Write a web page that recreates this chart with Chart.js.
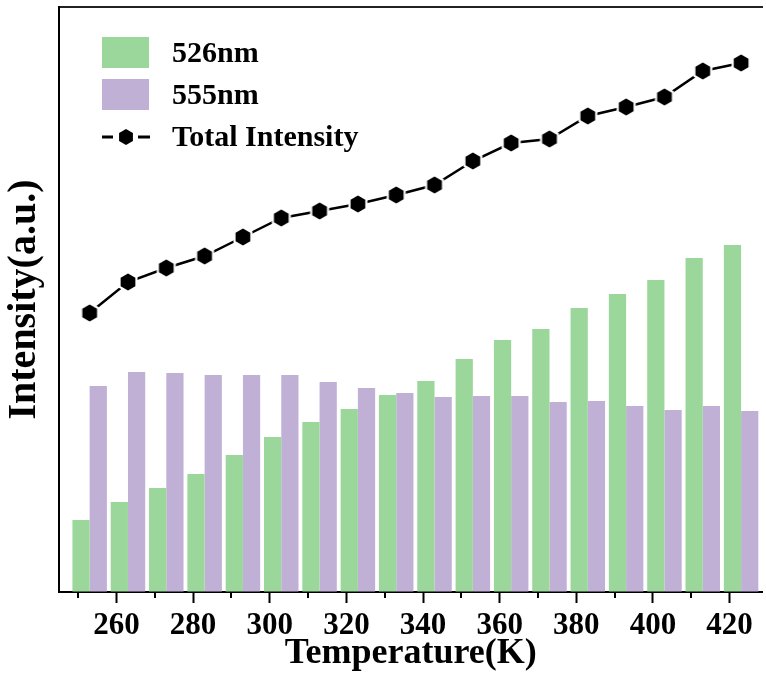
<!DOCTYPE html>
<html>
<head>
<meta charset="utf-8">
<script src="https://cdn.jsdelivr.net/npm/chart.js"></script>
<style>
body{margin:0;background:#fff}
#wrap{width:766px;height:675px}
</style>
</head>
<body>
<div id="wrap"><canvas id="chart" width="766" height="675"></canvas></div>
<script>
/* =========================
   DATA (arbitrary units)
========================= */
const temps = [253,263,273,283,293,303,313,323,333,343,353,363,373,383,393,403,413,423];
const green526 = [72,90,104,118,137,155,170,183,197,211,233,252,263,284,298,312,334,347];
const purple555 = [206,220,219,217,217,217,210,204,199,195,196,196,190,191,186,182,186,181];
const totalIntensity = [279,310,324,336,355,374,381,388,397,407,431,449,453,476,485,495,521,529];
const majorTicks = [260,280,300,320,340,360,380,400,420];
const minorTicks = [250,270,290,310,330,350,370,390,410];
const seriesNames = ["526nm","555nm","Total Intensity"];

/* =========================
   STYLE
========================= */
const FONT = "'Liberation Serif','Times New Roman',serif";
const GREEN = "#9bd79b";
const PURPLE = "#c1b0d6";

// hexagon marker with a white halo so the line stops short of it
function hexagon(r, halo) {
  const size = Math.ceil((r + halo) * 2) + 2;
  const c = document.createElement("canvas");
  c.width = size; c.height = size;
  const g = c.getContext("2d");
  const poly = rad => {
    g.beginPath();
    for (let i = 0; i < 6; i++) {
      const a = Math.PI / 2 + i * Math.PI / 3;
      g.lineTo(size / 2 + rad * Math.cos(a), size / 2 + rad * Math.sin(a));
    }
    g.closePath();
  };
  if (halo) { poly(r + halo); g.fillStyle = "#fff"; g.fill(); }
  poly(r); g.fillStyle = "#000"; g.fill();
  return c;
}
const marker = hexagon(8.5, 2.5);
const legendMarker = hexagon(8, 0);

const pairs = arr => arr.map((v, i) => ({x: temps[i], y: v}));

/* =========================
   EXTRAS: minor ticks + legend
========================= */
const extras = {
  id: "extras",
  afterDraw(chart) {
    const {ctx, chartArea: a, scales: {x}} = chart;
    ctx.save();
    ctx.strokeStyle = "#000";
    ctx.lineWidth = 2;
    minorTicks.forEach(v => {
      const px = Math.round(x.getPixelForValue(v));
      ctx.beginPath();
      ctx.moveTo(px, a.bottom);
      ctx.lineTo(px, a.bottom + 6);
      ctx.stroke();
    });

    const lx = a.left + 43, tx = a.left + 113;
    ctx.font = "bold 30px " + FONT;
    ctx.textBaseline = "middle";
    ctx.fillStyle = GREEN;
    ctx.fillRect(lx, a.top + 30, 47, 31);
    ctx.fillStyle = PURPLE;
    ctx.fillRect(lx, a.top + 72, 47, 31);
    ctx.fillStyle = "#000";
    ctx.fillText(seriesNames[0], tx, a.top + 47);
    ctx.fillText(seriesNames[1], tx, a.top + 89);
    ctx.fillText(seriesNames[2], tx, a.top + 131);
    const ly = a.top + 130;
    ctx.lineWidth = 3;
    ctx.beginPath();
    ctx.moveTo(lx, ly); ctx.lineTo(lx + 11, ly);
    ctx.moveTo(lx + 36, ly); ctx.lineTo(lx + 48, ly);
    ctx.stroke();
    ctx.drawImage(legendMarker, lx + 24 - legendMarker.width / 2, ly - legendMarker.height / 2);
    ctx.restore();
  }
};

/* =========================
   CHART
========================= */
new Chart(document.getElementById("chart"), {
  type: "bar",
  data: {
    datasets: [
      {label: seriesNames[2], type: "line", data: pairs(totalIntensity), borderColor: "#000",
       borderWidth: 2.5, pointStyle: marker, pointRadius: 9, tension: 0, order: 0},
      {label: seriesNames[0], data: pairs(green526), backgroundColor: GREEN, borderWidth: 0,
       categoryPercentage: 0.9, barPercentage: 1, order: 1},
      {label: seriesNames[1], data: pairs(purple555), backgroundColor: PURPLE, borderWidth: 0,
       categoryPercentage: 0.9, barPercentage: 1, order: 1}
    ]
  },
  options: {
    responsive: false,
    animation: false,
    devicePixelRatio: 1,
    layout: {autoPadding: false, padding: {top: 7, right: 0, bottom: 0, left: 0}},
    plugins: {legend: {display: false}, tooltip: {enabled: false}},
    scales: {
      x: {
        type: "linear", min: 245, max: 428.6, offset: false,
        afterBuildTicks: s => { s.ticks = majorTicks.map(v => ({value: v})); },
        afterFit: s => { s.height = 83; },
        grid: {offset: false, drawOnChartArea: false, drawTicks: true, tickLength: 11, tickWidth: 2, tickColor: "#000"},
        border: {display: true, color: "#000", width: 2},
        ticks: {color: "#000", autoSkip: false, maxRotation: 0, padding: 13,
                font: {family: FONT, size: 31, weight: "bold", lineHeight: 0.65}},
        title: {display: true, text: "Temperature(K)", color: "#000", padding: {top: 0, bottom: 3},
                font: {family: FONT, size: 36, weight: "bold", lineHeight: 1}}
      },
      x2: {
        type: "linear", position: "top", display: true, offset: false,
        ticks: {display: false},
        grid: {offset: false, drawOnChartArea: false, drawTicks: false},
        border: {display: true, color: "#222", width: 2}
      },
      y: {
        min: 0, max: 585,
        ticks: {display: false},
        grid: {drawOnChartArea: false, drawTicks: false},
        border: {display: true, color: "#000", width: 2},
        title: {display: true, text: "Intensity(a.u.)", color: "#000", padding: {top: 5, bottom: 0},
                font: {family: FONT, size: 40, weight: "bold", lineHeight: 1}},
        afterFit: s => { s.width = 59; }
      }
    }
  },
  plugins: [extras]
});
</script>
</body>
</html>
